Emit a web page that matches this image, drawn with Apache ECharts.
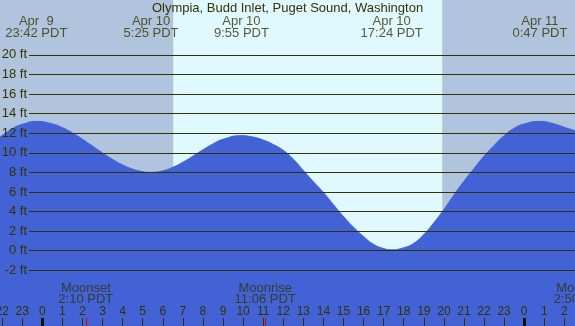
<!DOCTYPE html>
<html><head><meta charset="utf-8">
<script src="https://cdn.jsdelivr.net/npm/echarts@6/dist/echarts.min.js"></script>
<style>html,body{margin:0;padding:0;background:#fff;overflow:hidden}#c{width:575px;height:326px}</style>
</head><body><div id="c"></div>
<script>
const chartTitle = 'Olympia, Budd Inlet, Puget Sound, Washington';
// time in hours since Apr 10 00:00 PDT
const tideTimes = [-2.11, -1.5, -1, -0.3, 0.5, 1, 1.5, 2, 2.5, 3, 3.5, 4, 4.5, 5, 5.42, 6, 6.5, 7, 7.5, 8, 8.5, 9, 9.92, 10.5, 11, 11.5, 12, 12.5, 13, 13.5, 14, 14.5, 15, 15.5, 16, 16.5, 17, 17.4, 18, 18.5, 19, 19.5, 20, 20.5, 21, 21.5, 22, 22.5, 23, 23.5, 24, 24.78, 25.5, 26, 26.53];
const tideHeights = [11.6, 12.45, 12.9, 13.2, 12.95, 12.57, 12.03, 11.39, 10.69, 9.98, 9.32, 8.76, 8.33, 8.07, 8.0, 8.15, 8.51, 9.03, 9.65, 10.3, 10.9, 11.38, 11.75, 11.6, 11.3, 10.85, 10.25, 9.35, 8.2, 7.05, 5.95, 4.7, 3.5, 2.4, 1.45, 0.65, 0.22, 0.1, 0.3, 0.75, 1.65, 2.85, 4.2, 5.7, 7.1, 8.4, 9.65, 10.75, 11.75, 12.5, 12.95, 13.2, 12.95, 12.6, 12.25];
const extremeTimes = [-0.3, 5.417, 9.917, 17.4, 24.783];
const extremeDates = ['Apr  9', 'Apr 10', 'Apr 10', 'Apr 10', 'Apr 11'];
const extremeClock = ['23:42 PDT', '5:25 PDT', '9:55 PDT', '17:24 PDT', '0:47 PDT'];
const daylight = [6.52, 19.92];
const moonTimes = [2.167, 11.1, 26.833];
const moonEvents = ['Moonset', 'Moonrise', 'Moonset'];
const moonClock = ['2:10 PDT', '11:06 PDT', '2:50 PDT'];
const hourTicks = [-2, -1, 0, 1, 2, 3, 4, 5, 6, 7, 8, 9, 10, 11, 12, 13, 14, 15, 16, 17, 18, 19, 20, 21, 22, 23, 24, 25, 26];
const midnightTicks = [0, 24];
const xRange = [-2.107, 26.53];
const heightRange = [-7.69, 25.6];
const heightTickRange = [-2, 20];

const FONT = 'Liberation Sans';
const INK = '#333300';
const chart = echarts.init(document.getElementById('c'), null, {renderer: 'canvas'});

const baseX = {gridIndex: 0, type: 'value', min: xRange[0], max: xRange[1], position: 'bottom',
  axisLine: {show: false, onZero: false}, splitLine: {show: false}, z: 10};

chart.setOption({
  animation: false,
  title: {text: chartTitle, left: 'center', top: 1, padding: 0,
    textStyle: {fontFamily: FONT, fontSize: 13, fontWeight: 'normal', color: INK, lineHeight: 15}},
  grid: [
    {left: 0, right: 0, top: 0, bottom: 0, show: true, backgroundColor: '#b0c4de', borderWidth: 0,
      containLabel: false, outerBoundsMode: 'none'},
    {left: 29, right: 0, top: 54.8, bottom: 55.7, show: false, containLabel: false, outerBoundsMode: 'none'}
  ],
  xAxis: [
    Object.assign({}, baseX, {
      axisTick: {show: true, inside: true, length: 8, customValues: hourTicks, lineStyle: {color: INK, width: 1}},
      axisLabel: {show: true, inside: true, margin: 14.3, customValues: hourTicks, verticalAlign: 'middle',
        hideOverlap: false, fontFamily: FONT, fontSize: 12, color: INK,
        formatter: v => String(((Math.round(v) % 24) + 24) % 24)}
    }),
    Object.assign({}, baseX, {
      axisTick: {show: true, inside: true, length: 8, customValues: midnightTicks, lineStyle: {color: '#111100', width: 3}},
      axisLabel: {show: false}
    }),
    Object.assign({}, baseX, {
      axisTick: {show: true, inside: true, length: 8, customValues: moonTimes, lineStyle: {color: '#e00000', width: 1}},
      axisLabel: {show: false}
    }),
    {gridIndex: 1, type: 'value', min: 0, max: 1, show: false, axisLine: {onZero: false}}
  ],
  yAxis: [
    {gridIndex: 0, type: 'value', min: heightRange[0], max: heightRange[1], show: false, axisLine: {onZero: false}},
    {gridIndex: 0, type: 'value', min: 0, max: 1, show: false, axisLine: {onZero: false}},
    {gridIndex: 1, type: 'value', min: heightTickRange[0], max: heightTickRange[1], interval: 2, z: 10,
      axisLine: {show: false, onZero: false}, axisTick: {show: false},
      axisLabel: {margin: 2, fontFamily: FONT, fontSize: 13, color: INK, formatter: '{value} ft'},
      splitLine: {show: true, lineStyle: {color: INK, width: 1}}}
  ],
  series: [
    {type: 'line', xAxisIndex: 0, yAxisIndex: 0, data: [], z: 1, silent: true,
      markArea: {silent: true, itemStyle: {color: '#e0f8ff'}, label: {show: false},
        data: [[{xAxis: daylight[0]}, {xAxis: daylight[1]}]]}},
    {type: 'line', xAxisIndex: 0, yAxisIndex: 0, z: 2, silent: true, symbol: 'none', smooth: 0.5,
      data: tideTimes.map((t, i) => [t, tideHeights[i]]),
      lineStyle: {color: '#4262d6', width: 1},
      areaStyle: {color: '#4262d6', opacity: 1, origin: 'start'}},
    {type: 'scatter', xAxisIndex: 0, yAxisIndex: 1, z: 12, silent: true, clip: false,
      symbol: 'circle', symbolSize: 1, itemStyle: {color: 'rgba(0,0,0,0)'},
      data: extremeTimes.map((t, i) => ({value: [t, 1], label: {formatter: extremeDates[i] + '\n' + extremeClock[i]}})),
      label: {show: true, position: 'inside', offset: [0, 27], fontFamily: FONT, fontSize: 13, lineHeight: 12,
        color: INK, align: 'center', verticalAlign: 'middle'}},
    {type: 'scatter', xAxisIndex: 0, yAxisIndex: 1, z: 12, silent: true, clip: false,
      symbol: 'circle', symbolSize: 1, itemStyle: {color: 'rgba(0,0,0,0)'},
      data: moonTimes.map((t, i) => ({value: [t, 0], label: {formatter: moonEvents[i] + '\n' + moonClock[i]}})),
      label: {show: true, position: 'inside', offset: [0, -32.2], fontFamily: FONT, fontSize: 13, lineHeight: 10.6,
        color: INK, align: 'center', verticalAlign: 'middle'}}
  ]
});
</script></body></html>
